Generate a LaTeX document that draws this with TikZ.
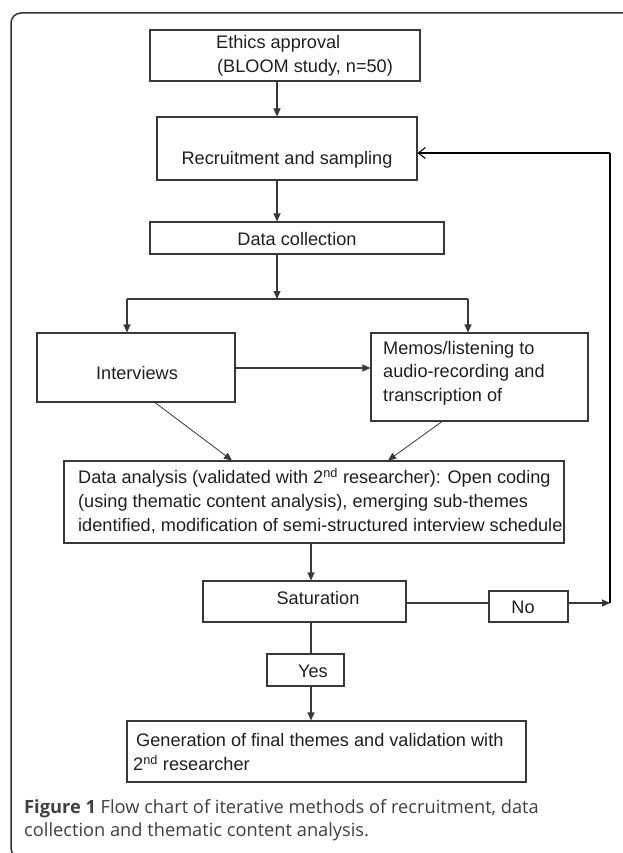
\documentclass[tikz,border=0pt]{standalone}
\usepackage{fontspec}
\setmainfont{Liberation Sans}
\newfontfamily\capfont{Open Sans}
\usetikzlibrary{arrows.meta}
\definecolor{ln}{gray}{0.22}
\definecolor{tx}{gray}{0.12}
\begin{document}
\begin{tikzpicture}[x=1pt,y=-1pt,
  box/.style={draw=ln, line width=1.1pt, rectangle, inner sep=0pt},
  txt/.style={font=\fontsize{18.15}{24}\selectfont, text=tx, inner sep=0pt},
  ltxt/.style={txt, anchor=west},
  conn/.style={draw=ln, line width=1.1pt},
  arr/.style={conn, -{Triangle[length=8pt,width=7pt]}},
  captxt/.style={font=\capfont\fontsize{18.25}{23}\selectfont, text=black!75, inner sep=0pt, anchor=west},
]
\useasboundingbox (0,0) rectangle (622,853);
\draw[line width=1.5pt, black!80, rounded corners=10pt] (11,13) rectangle (660,858);

% boxes
\node[box, minimum width=270pt, minimum height=51pt] (eth) at (285,55.5) {};
\node[box, minimum width=260pt, minimum height=63pt] (rec) at (287,148.5) {};
\node[box, minimum width=294pt, minimum height=32pt] (dc) at (297,238) {};
\node[box, minimum width=198pt, minimum height=69pt] (int) at (136,367.5) {};
\node[box, minimum width=217pt, minimum height=88pt] (mem) at (479.5,377) {};
\node[box, minimum width=500pt, minimum height=82pt] (da) at (314,502) {};
\node[box, minimum width=203pt, minimum height=41pt] (sat) at (304.5,601.5) {};
\node[box, minimum width=79pt, minimum height=31pt] (no) at (528.5,606.5) {};
\node[box, minimum width=77pt, minimum height=32pt] (yes) at (305.5,670) {};
\node[box, minimum width=399pt, minimum height=61pt] (gen) at (326.5,751.5) {};

% texts
\node[ltxt] (t1) at (216,44) {Ethics approval};
\node[ltxt] (t2) at (217,68) {(BLOOM study, n=50)};
\node[txt] (t3) at (287,160) {Recruitment and sampling};
\node[txt] (t4) at (297,239) {Data collection};
\node[txt] (t5) at (137,373) {Interviews};
\node[ltxt] (t6) at (383,350) {Memos/listening to};
\node[ltxt] (t7) at (383,373) {audio-recording and};
\node[ltxt] (t8) at (383,397) {transcription of};
\node[ltxt] (t9) at (78,478) {Data analysis (validated with 2\textsuperscript{nd} researcher): Open coding};
\node[ltxt] (t10) at (78,503) {(using thematic content analysis), emerging sub-themes};
\node[ltxt] (t11) at (78,526) {identified, modification of semi-structured interview schedule};
\node[txt] (t12) at (318,598) {Saturation};
\node[txt] (t13) at (523,607) {No};
\node[txt] (t14) at (313,671) {Yes};
\node[ltxt] (t15) at (136,740) {Generation of final themes and validation with};
\node[ltxt] (t16) at (133,763) {2\textsuperscript{nd} researcher};
\node[captxt] (c1) at (24,809) {\textbf{Figure 1} Flow chart of iterative methods of recruitment, data};
\node[captxt] (c2) at (24,832) {collection and thematic content analysis.};

% helper coordinates
\coordinate (xa) at (277,0);
\coordinate (xb) at (311,0);
\coordinate (bl) at (127,299);
\coordinate (bm) at (277,299);
\coordinate (brt) at (468,299);
\coordinate (hy) at (0,368);
\coordinate (ny) at (0,603);
\coordinate (fb) at (610,603);
\coordinate (ft) at (610,153);

% connectors
\draw[arr] (xa |- eth.south) -- (xa |- rec.north);
\draw[arr] (xa |- rec.south) -- (xa |- dc.north);
\draw[arr] (xa |- dc.south) -- (bm);
\draw[conn] (bl) -- (brt);
\draw[arr] (bl) -- (bl |- int.north);
\draw[arr] (brt) -- (brt |- mem.north);
\draw[arr] (int.east |- hy) -- (mem.west |- hy);
\draw[arr, line width=0.8pt] (int.south -| 155,0) -- (da.north -| 232,0);
\draw[arr, line width=0.8pt] (mem.south -| 442,0) -- (da.north -| 388,0);
\draw[arr] (xb |- da.south) -- (xb |- sat.north);
\draw[conn] (sat.east |- ny) -- (no.west |- ny);
\draw[arr] (no.east |- ny) -- (fb);
\draw[line width=2pt, black] (fb) -- (ft);
\draw[line width=1.1pt, black, -{Straight Barb[length=7pt,width=11pt]}] (ft) -- (rec.east |- ft);
\draw[conn] (xb |- sat.south) -- (xb |- yes.north);
\draw[arr] (xb |- yes.south) -- (xb |- gen.north);
\end{tikzpicture}
\end{document}
